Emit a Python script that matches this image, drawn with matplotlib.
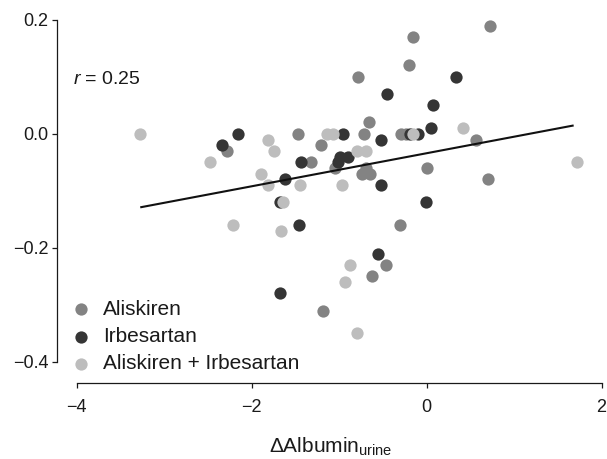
import numpy as np
import matplotlib
matplotlib.use("Agg")
import matplotlib.pyplot as plt

plt.rcParams['font.family'] = ['Liberation Sans', 'DejaVu Sans']
plt.rcParams['mathtext.fontset'] = 'custom'
plt.rcParams['mathtext.rm'] = 'Liberation Sans'
plt.rcParams['mathtext.it'] = 'Liberation Sans:italic'

# values
aliskiren_x = [0.72, -0.15, -0.20, -0.78, -0.66, -0.71, -0.29, -0.24, -1.47, -1.21,
               -2.28, -1.32, -1.05, -0.74, -0.65, -0.69, 0.00, 0.56, 0.70, -0.30,
               -0.46, -0.62, -1.18]
aliskiren_y = [0.19, 0.17, 0.12, 0.10, 0.02, 0.00, 0.00, 0.00, 0.00, -0.02,
               -0.03, -0.05, -0.06, -0.07, -0.07, -0.06, -0.06, -0.01, -0.08, -0.16,
               -0.23, -0.25, -0.31]

irbesartan_x = [0.34, -0.45, 0.07, 0.05, -0.52, -0.19, -0.10, -0.96, -2.15, -2.34,
                -1.43, -0.99, -0.90, -1.01, -1.62, -0.52, -0.01, -1.68, -1.46, -0.56,
                -1.67]
irbesartan_y = [0.10, 0.07, 0.05, 0.01, -0.01, 0.00, 0.00, 0.00, 0.00, -0.02,
                -0.05, -0.04, -0.04, -0.05, -0.08, -0.09, -0.12, -0.12, -0.16, -0.21,
                -0.28]

combo_x = [-3.27, -2.48, -1.81, -1.74, -1.89, -1.81, -1.45, -0.97, -1.14, -1.07,
           -0.15, 0.42, -0.79, -0.69, 1.72, -1.64, -2.21, -1.66, -0.88, -0.93,
           -0.80]
combo_y = [0.00, -0.05, -0.01, -0.03, -0.07, -0.09, -0.09, -0.09, 0.00, 0.00,
           0.00, 0.01, -0.03, -0.03, -0.05, -0.12, -0.16, -0.17, -0.23, -0.26,
           -0.35]

# regression line
fit_slope = 0.029
fit_intercept = -0.034
fit_x_range = [-3.26, 1.67]

x_ticks = [-4, -2, 0, 2]
y_ticks = [0.2, 0.0, -0.2, -0.4]

col_aliskiren = '#838383'
col_irbesartan = '#353535'
col_combo = '#bdbdbd'
text_col = '#1a1a1a'

fig = plt.figure(figsize=(6.07, 4.59), dpi=100)
ax = fig.add_axes([57 / 607, 1 - 383 / 459, 548 / 607, 366 / 459])

ax.scatter(aliskiren_x, aliskiren_y, s=78, color=col_aliskiren, linewidths=0,
           label='Aliskiren', zorder=3)
ax.scatter(irbesartan_x, irbesartan_y, s=78, color=col_irbesartan, linewidths=0,
           label='Irbesartan', zorder=3)
ax.scatter(combo_x, combo_y, s=78, color=col_combo, linewidths=0,
           label='Aliskiren + Irbesartan', zorder=3)

line_x = np.array(fit_x_range)
ax.plot(line_x, fit_intercept + fit_slope * line_x, color='#111111', lw=1.5, zorder=4)

ax.set_xlim(-4.223, 2.04)
ax.set_ylim(-0.437, 0.205)
ax.set_xticks(x_ticks)
ax.set_xticklabels(['\u22124', '\u22122', '0', '2'])
ax.set_yticks(y_ticks)
ax.set_yticklabels(['0.2', '0.0', '\u22120.2', '\u22120.4'])

for side in ['top', 'right']:
    ax.spines[side].set_visible(False)
ax.spines['bottom'].set_bounds(-4, 2)
ax.spines['left'].set_bounds(-0.4, 0.2)
for side in ['bottom', 'left']:
    ax.spines[side].set_linewidth(0.9)
    ax.spines[side].set_color(text_col)

ax.tick_params(axis='both', direction='out', length=3.6, width=0.9,
               colors=text_col, labelsize=13)
ax.tick_params(axis='x', pad=8)
ax.tick_params(axis='y', pad=2.5)

ax.text(0.029, 0.828, '$\\mathit{r}$ = 0.25', transform=ax.transAxes,
        fontsize=14, color=text_col, ha='left', va='center')

ax.set_xlabel('\u0394Albumin$_{\\mathrm{urine}}$', fontsize=15, color=text_col,
              labelpad=14)

leg = ax.legend(loc='lower left', bbox_to_anchor=(0.006, -0.008), frameon=False,
                fontsize=15, handlelength=0.8, handletextpad=0.65,
                labelspacing=0.4, borderaxespad=0.2)
for t in leg.get_texts():
    t.set_color(text_col)

fig.savefig('out.png', dpi=100)
